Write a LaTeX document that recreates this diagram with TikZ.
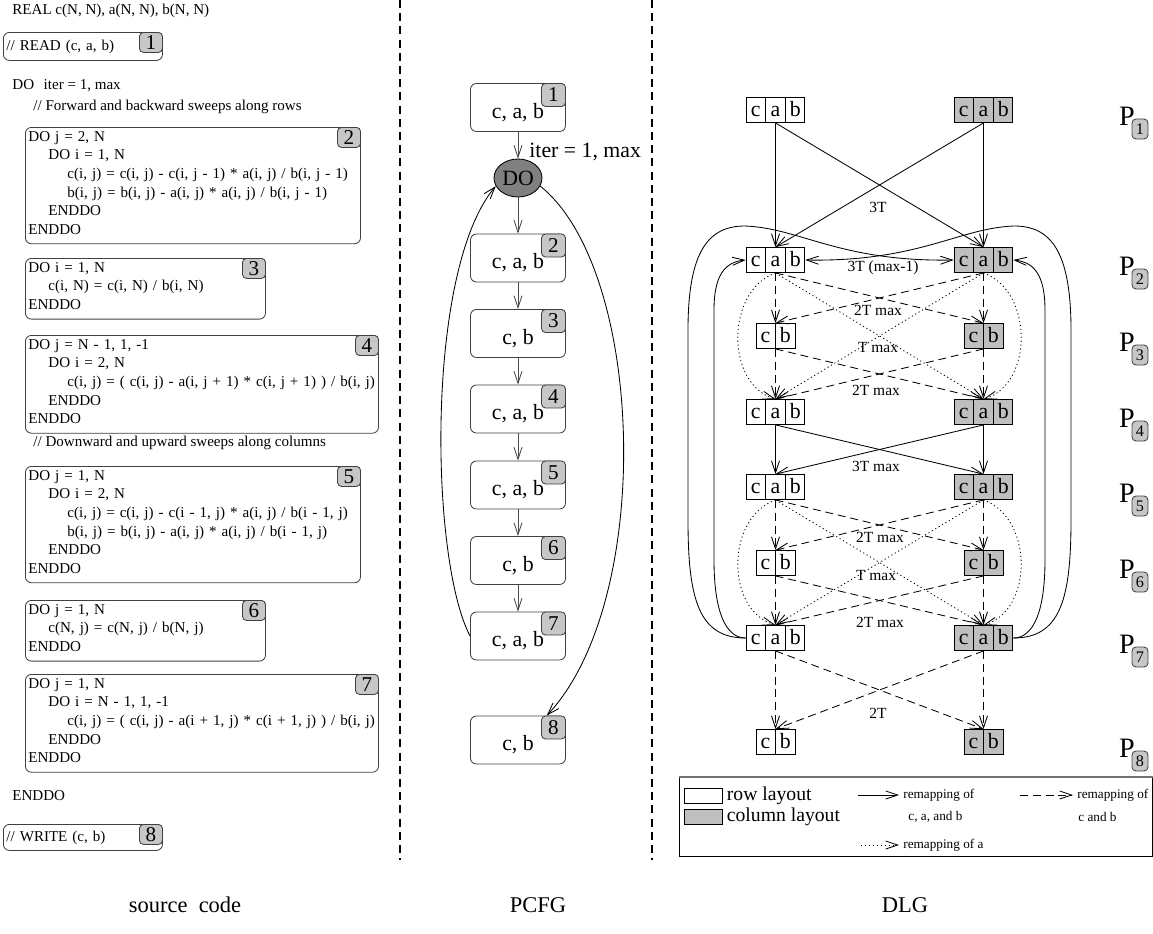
\documentclass[tikz,border=0pt]{standalone}
\usepackage{fontspec}
\setmainfont{Liberation Serif}
\usepackage{tikz}
\usetikzlibrary{arrows.meta, positioning, calc, shapes.geometric, shapes.multipart}

\newcommand{\codefont}{\fontsize{10.7}{13.2}\selectfont}
\newcommand{\bigfont}{\fontsize{15.5}{18}\selectfont}
\newcommand{\numfont}{\fontsize{15}{16}\selectfont}
\newcommand{\edgefont}{\fontsize{11}{12}\selectfont}
\newcommand{\dlgcell}[1]{\makebox[0.475cm]{\rule[-0.15cm]{0pt}{0.625cm}#1}}
\newcommand{\cabcells}{\dlgcell{c}\nodepart{two}\dlgcell{a}\nodepart{three}\dlgcell{b}}
\newcommand{\cbcells}{\dlgcell{c}\nodepart{two}\dlgcell{b}}
\newcommand{\pctext}[1]{\rule{0pt}{0.62cm}#1\hspace{0.25cm}}

\tikzset{
  arr/.style={-{Straight Barb[length=3mm, width=2mm]}, line width=0.6pt},
  codebox/.style={draw=black!75, rounded corners=0.15cm, inner xsep=0.075cm, inner ysep=0.1cm, align=left, anchor=north west, font=\codefont},
  codetxt/.style={anchor=west, inner sep=0pt, font=\codefont},
  srcnum/.style={draw=black!75, fill=black!22, rounded corners=0.1cm, minimum width=0.575cm, minimum height=0.5cm, inner sep=0pt, anchor=north east, font=\numfont},
  pcbox/.style={draw=black!75, rounded corners=0.15cm, minimum width=2.375cm, minimum height=1.2cm, inner sep=0pt, font=\bigfont},
  pcnum/.style={srcnum, minimum width=0.6cm, minimum height=0.575cm},
  flow/.style={arr, draw=black!70},
  rowlay/.style={rectangle split, rectangle split horizontal, rectangle split parts=3, draw, fill=white, inner sep=0pt, font=\bigfont},
  collay/.style={rowlay, fill=black!25},
  rowlaycb/.style={rowlay, rectangle split parts=2},
  collaycb/.style={collay, rectangle split parts=2},
  remap/.style={arr},
  remapcb/.style={arr, dash pattern=on 2mm off 1.2mm},
  remapa/.style={arr, dash pattern=on 0.8pt off 2pt},
  edgelbl/.style={font=\edgefont, inner sep=1pt},
  plbl/.style={font=\fontsize{20}{20}\selectfont, inner sep=0pt},
  pnum/.style={draw=black!75, fill=black!22, rounded corners=0.1cm, minimum width=0.4cm, minimum height=0.5cm, inner sep=0pt, font=\fontsize{11.5}{12}\selectfont},
  lgbig/.style={font=\fontsize{14}{16}\selectfont, inner sep=0pt},
  lgsmall/.style={font=\fontsize{9.4}{11}\selectfont, inner sep=0pt, anchor=west},
  caption/.style={font=\fontsize{16}{18}\selectfont},
  separator/.style={dash pattern=on 2mm off 1.3mm, line width=1pt},
}

\begin{document}
\begin{tikzpicture}[x=0.025cm, y=-0.025cm, line width=0.6pt]
  \useasboundingbox (0,0) rectangle (1153,934);

  % Source code
  \node[codetxt] (real) at (12,11) {REAL c(N, N), a(N, N), b(N, N)};
  \node[codebox, text width=3.825cm, minimum height=0.7cm] (src1) at (3,32) {// READ (c, a, b)};
  \node[srcnum] (srcn1) at (src1.north east) {1};
  \node[codetxt] (doiter) at (12,86) {DO\hspace{0.24cm}iter = 1, max};
  \node[codetxt] (cmtrows) at (33,107) {// Forward and backward sweeps along rows};

  \node[codebox, text width=8.225cm] (src2) at (25,127) {DO j = 2, N\\
    \hspace*{0.5cm}DO i = 1, N\\
    \hspace*{0.975cm}\mbox{c(i, j) = c(i, j) - c(i, j - 1) * a(i, j) / b(i, j - 1)}\\
    \hspace*{0.975cm}\mbox{b(i, j) = b(i, j) - a(i, j) * a(i, j) / b(i, j - 1)}\\
    \hspace*{0.5cm}ENDDO\\
    ENDDO\strut};
  \node[srcnum] (srcn2) at (src2.north east) {2};

  \node[codebox, text width=5.85cm] (src3) at (25,258) {DO i = 1, N\\
    \hspace*{0.5cm}c(i, N) = c(i, N) / b(i, N)\\
    ENDDO\strut};
  \node[srcnum] (srcn3) at (src3.north east) {3};

  \node[codebox, text width=8.675cm] (src4) at (25,335) {DO j = N - 1, 1, -1\\
    \hspace*{0.5cm}DO i = 2, N\\
    \hspace*{0.975cm}\mbox{c(i, j) = ( c(i, j) - a(i, j + 1) * c(i, j + 1) ) / b(i, j)}\\
    \hspace*{0.5cm}ENDDO\\
    ENDDO\strut};
  \node[srcnum] (srcn4) at (src4.north east) {4};

  \node[codetxt] (cmtcols) at (33,443) {// Downward and upward sweeps along columns};

  \node[codebox, text width=8.225cm] (src5) at (25,466) {DO j = 1, N\\
    \hspace*{0.5cm}DO i = 2, N\\
    \hspace*{0.975cm}\mbox{c(i, j) = c(i, j) - c(i - 1, j) * a(i, j) / b(i - 1, j)}\\
    \hspace*{0.975cm}\mbox{b(i, j) = b(i, j) - a(i, j) * a(i, j) / b(i - 1, j)}\\
    \hspace*{0.5cm}ENDDO\\
    ENDDO\strut};
  \node[srcnum] (srcn5) at (src5.north east) {5};

  \node[codebox, text width=5.85cm] (src6) at (25,600) {DO j = 1, N\\
    \hspace*{0.5cm}c(N, j) = c(N, j) / b(N, j)\\
    ENDDO\strut};
  \node[srcnum] (srcn6) at (src6.north east) {6};

  \node[codebox, text width=8.675cm] (src7) at (25,674) {DO j = 1, N\\
    \hspace*{0.5cm}DO i = N - 1, 1, -1\\
    \hspace*{0.975cm}\mbox{c(i, j) = ( c(i, j) - a(i + 1, j) * c(i + 1, j) ) / b(i, j)}\\
    \hspace*{0.5cm}ENDDO\\
    ENDDO\strut};
  \node[srcnum] (srcn7) at (src7.north east) {7};

  \node[codetxt] (enddo) at (12,796) {ENDDO};
  \node[codebox, text width=3.825cm, minimum height=0.65cm] (src8) at (3,824) {// WRITE (c, b)};
  \node[srcnum] (srcn8) at (src8.north east) {8};

  % Separators
  \draw[separator] (400,0) -- (400,860);
  \draw[separator] (652,0) -- (652,860);

  % PCFG
  \node[pcbox] (pc1) at (518,107.5) {\pctext{c, a, b}};
  \node[draw, ellipse, fill=black!50, minimum width=1.2cm, minimum height=0.95cm, inner sep=0pt, font=\bigfont] (do) at (518,178) {DO};
  \node[pcbox] (pc2) at (518,258) {\pctext{c, a, b}};
  \node[pcbox] (pc3) at (518,333.5) {\pctext{c, b}};
  \node[pcbox] (pc4) at (518,409) {\pctext{c, a, b}};
  \node[pcbox] (pc5) at (518,485) {\pctext{c, a, b}};
  \node[pcbox] (pc6) at (518,560.5) {\pctext{c, b}};
  \node[pcbox] (pc7) at (518,636) {\pctext{c, a, b}};
  \node[pcbox] (pc8) at (518,740) {\pctext{c, b}};
  \foreach \i in {1,...,8}
    \node[pcnum] (pcn\i) at (pc\i.north east) {\i};
  \node[anchor=west, inner sep=0pt, font=\bigfont] (iterlbl) at (529,152) {iter = 1, max};

  \draw[flow] (pc1.south) -- (do.north);
  \draw[flow] (do.south) -- (pc2.north);
  \draw[flow] (pc2.south) -- (pc3.north);
  \draw[flow] (pc3.south) -- (pc4.north);
  \draw[flow] (pc4.south) -- (pc5.north);
  \draw[flow] (pc5.south) -- (pc6.north);
  \draw[flow] (pc6.south) -- (pc7.north);
  \draw[arr] (pc7.west) .. controls (430,560) and (425,270) .. (do.200);
  \draw[arr] (do.-20) .. controls (645,270) and (655,600) .. ($(pc8.north)!0.6!(pc8.north east)$);

  % DLG layouts
  \node[rowlay] (L1) at (775.5,110) {\cabcells};
  \node[collay] (R1) at (983.5,110) {\cabcells};
  \node[rowlay] (L2) at (775.5,260) {\cabcells};
  \node[collay] (R2) at (983.5,260) {\cabcells};
  \node[rowlaycb] (L3) at (775.5,336) {\cbcells};
  \node[collaycb] (R3) at (983.5,336) {\cbcells};
  \node[rowlay] (L4) at (775.5,412) {\cabcells};
  \node[collay] (R4) at (983.5,412) {\cabcells};
  \node[rowlay] (L5) at (775.5,487) {\cabcells};
  \node[collay] (R5) at (983.5,487) {\cabcells};
  \node[rowlaycb] (L6) at (775.5,563) {\cbcells};
  \node[collaycb] (R6) at (983.5,563) {\cbcells};
  \node[rowlay] (L7) at (775.5,638) {\cabcells};
  \node[collay] (R7) at (983.5,638) {\cabcells};
  \node[rowlaycb] (L8) at (775.5,742) {\cbcells};
  \node[collaycb] (R8) at (983.5,742) {\cbcells};

  \foreach \i/\y in {1/110, 2/260, 3/336, 4/412, 5/487, 6/563, 7/638, 8/742} {
    \node[plbl] (P\i) at (1127,\y+6) {P};
    \node[pnum] (Pn\i) at (1140,\y+19) {\i};
  }

  % P1 -> P2
  \draw[remap] (L1.south) -- (L2.north);
  \draw[remap] (L1.south) -- (R2.north);
  \draw[remap] (R1.south) -- (R2.north);
  \draw[remap] (R1.south) -- (L2.north);

  % P2 -> P3 -> P4 and P5 -> P6 -> P7
  \foreach \ta/\tb/\tc in {2/3/4, 5/6/7} {
    \draw[remapcb] (L\ta.south) -- (L\tb.north);
    \draw[remapcb] (L\ta.south) -- (R\tb.north);
    \draw[remapcb] (R\ta.south) -- (R\tb.north);
    \draw[remapcb] (R\ta.south) -- (L\tb.north);
    \draw[remapcb] (L\tb.south) -- (L\tc.north);
    \draw[remapcb] (L\tb.south) -- (R\tc.north);
    \draw[remapcb] (R\tb.south) -- (R\tc.north);
    \draw[remapcb] (R\tb.south) -- (L\tc.north);
    \draw[remapa] (L\ta.south) .. controls +(-50,18) and +(-50,-15) .. (L\tc.north);
    \draw[remapa] (R\ta.south) .. controls +(50,18) and +(50,-15) .. (R\tc.north);
    \draw[remapa] (L\ta.south) -- (R\tc.north);
    \draw[remapa] (R\ta.south) -- (L\tc.north);
  }

  % P4 -> P5
  \draw[remap] (L4.south) -- (L5.north);
  \draw[remap] (L4.south) -- (R5.north);
  \draw[remap] (R4.south) -- (R5.north);
  \draw[remap] (R4.south) -- (L5.north);

  % P7 -> P8
  \draw[remapcb] (L7.south) -- (L8.north);
  \draw[remapcb] (L7.south) -- (R8.north);
  \draw[remapcb] (R7.south) -- (R8.north);
  \draw[remapcb] (R7.south) -- (L8.north);

  % P7 -> P2 (back edges)
  \draw[remap] (L7.west) .. controls (725,638) and (714,610) .. (714,560) -- (714,310) .. controls (714,275) and (725,262) .. (L2.west);
  \draw[remap] (R7.east) .. controls (1034,638) and (1045,610) .. (1045,560) -- (1045,310) .. controls (1045,275) and (1034,262) .. (R2.east);
  \draw[remap] (L7.west) .. controls (699,638) and (688,600) .. (688,520) -- (688,330) .. controls (688,250) and (709,226) .. (745,226) .. controls (800,228) and (840,262) .. (R2.west);
  \draw[remap] (R7.east) .. controls (1060,638) and (1071,600) .. (1071,520) -- (1071,330) .. controls (1071,250) and (1050,226) .. (1014,226) .. controls (959,228) and (919,262) .. (L2.east);

  % Costs
  \node[edgelbl] (t12) at (878,207) {3T};
  \node[edgelbl] (t72) at (883,268) {3T (max-1)};
  \node[edgelbl] (t23) at (878,310) {2T max};
  \node[edgelbl] (t24) at (878,348) {T max};
  \node[edgelbl] (t34) at (876,390) {2T max};
  \node[edgelbl] (t45) at (876,466) {3T max};
  \node[edgelbl] (t56) at (880,537) {2T max};
  \node[edgelbl] (t57) at (876,576) {T max};
  \node[edgelbl] (t67) at (880,622) {2T max};
  \node[edgelbl] (t78) at (878,713) {2T};

  % Legend
  \draw (679,777) rectangle (1152.5,856);
  \draw[black!55, line width=1.2pt] (679,777) -- (1153,777);
  \node[draw, fill=white, minimum width=0.95cm, minimum height=0.375cm, inner sep=0pt] (lgrow) at (703,796) {};
  \node[lgbig, right=0.1cm of lgrow] (lgrowtxt) {row layout};
  \node[draw, fill=black!25, minimum width=0.95cm, minimum height=0.375cm, inner sep=0pt] (lgcol) at (703,817) {};
  \node[lgbig, right=0.1cm of lgcol] (lgcoltxt) {column layout};
  \coordinate (lgsolidA) at (858,795);
  \coordinate (lgsolidB) at (899,795);
  \draw[remap] (lgsolidA) -- (lgsolidB);
  \node[lgsmall] (lgsolidtxt) at (903,795) {remapping of};
  \node[lgsmall] (lgsolidtxtb) at (908,817) {c, a, and b};
  \coordinate (lgdashA) at (1020,795);
  \coordinate (lgdashB) at (1073,795);
  \draw[remapcb] (lgdashA) -- (lgdashB);
  \node[lgsmall] (lgdashtxt) at (1077,795) {remapping of};
  \node[lgsmall] (lgdashtxtb) at (1078,817) {c and b};
  \coordinate (lgdotA) at (861,845);
  \coordinate (lgdotB) at (899,845);
  \draw[remapa] (lgdotA) -- (lgdotB);
  \node[lgsmall] (lgdottxt) at (903,845) {remapping of a};

  % Captions
  \node[caption] (capsrc) at (185,905) {source\ \ code};
  \node[caption] (cappcfg) at (538,905) {PCFG};
  \node[caption] (capdlg) at (905,905) {DLG};
\end{tikzpicture}
\end{document}
